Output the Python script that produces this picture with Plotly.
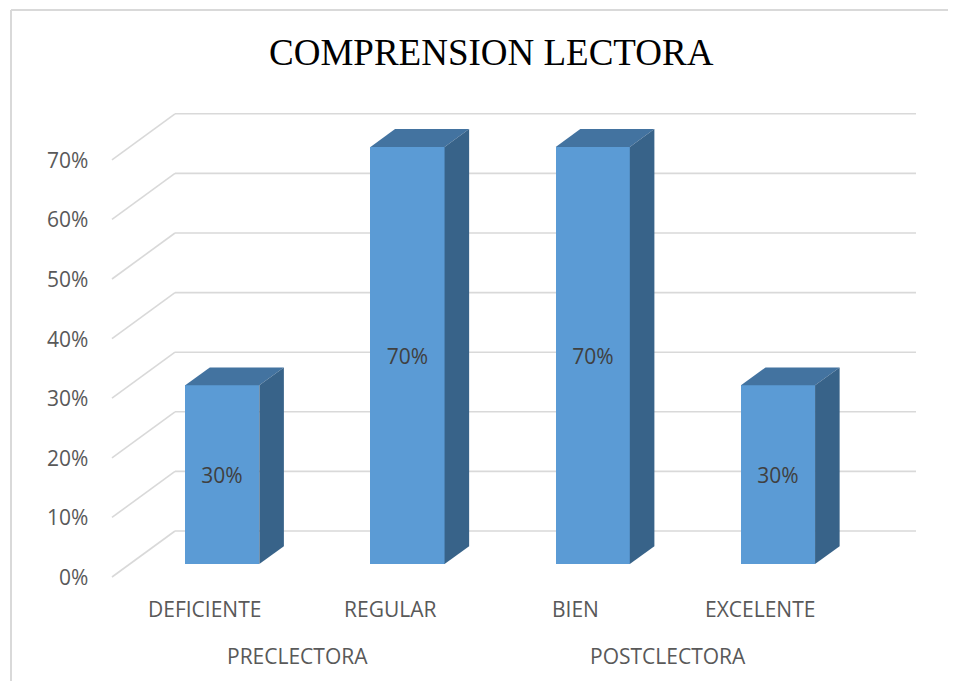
import plotly.graph_objects as go

# ---- data ----
categories = ["DEFICIENTE", "REGULAR", "BIEN", "EXCELENTE"]
values = [30, 70, 70, 30]
groups = ["PRECLECTORA", "POSTCLECTORA"]
group_span = [(0, 1), (2, 3)]
tick_vals = [0, 10, 20, 30, 40, 50, 60, 70]
tick_text = [f"{v}%" for v in tick_vals]
title = "COMPRENSION LECTORA"

# ---- 3D projection parameters ----
W, H = 956, 681
OFF = 8                # page body margin compensation
PX_X = 185.25          # pixels per category slot
PX_Y = 5.96            # pixels per percent
X0_PX, Y0_PX = 112 - OFF, 577 - OFF  # front-floor origin in pixels
DEPTH_X = 63 / PX_X    # back wall shift in x units
DEPTH_Y = 46 / PX_Y    # back wall shift in y units
BAR_T0, BAR_T1 = 0.28, 0.67  # bar depth span (fraction of floor depth)
BAR_W = 0.4

x_range = [(0 - X0_PX) / PX_X - 0.5, (W - X0_PX) / PX_X - 0.5]
y_range = [(Y0_PX - H) / PX_Y, Y0_PX / PX_Y]

FRONT = "#5B9BD5"
TOP = "#4373A0"
SIDE = "#386389"
GRID = "#D9D9D9"
TXT = "#595959"

fig = go.Figure()
shapes = []
n = len(categories)
x_left, x_right = -0.5, n - 0.5

for v in tick_vals:
    shapes.append(dict(type="line", xref="x", yref="y", layer="below",
                       x0=x_left, y0=v, x1=x_left + DEPTH_X, y1=v + DEPTH_Y,
                       line=dict(color=GRID, width=1.6)))
    shapes.append(dict(type="line", xref="x", yref="y", layer="below",
                       x0=x_left + DEPTH_X, y0=v + DEPTH_Y, x1=x_right + DEPTH_X, y1=v + DEPTH_Y,
                       line=dict(color=GRID, width=1.6)))

# chart border
bx, by = (11 - OFF) / W, 1 - (10 - OFF) / H
shapes.append(dict(type="line", xref="paper", yref="paper", x0=bx, y0=0, x1=bx, y1=by,
                   line=dict(color=GRID, width=2)))
shapes.append(dict(type="line", xref="paper", yref="paper", x0=bx, y0=by, x1=1, y1=by,
                   line=dict(color=GRID, width=2)))

fdx, fdy = BAR_T0 * DEPTH_X, BAR_T0 * DEPTH_Y
bdx, bdy = (BAR_T1 - BAR_T0) * DEPTH_X, (BAR_T1 - BAR_T0) * DEPTH_Y
xs = [i + fdx for i in range(n)]

fig.add_trace(go.Bar(
    x=xs, y=values, base=[fdy] * n, width=BAR_W,
    marker=dict(color=FRONT, line=dict(width=0)),
    text=[f"{v}%" for v in values], textposition="inside", insidetextanchor="middle",
    textfont=dict(family="Open Sans", size=21, color="#404040"),
    textangle=0, hoverinfo="skip", showlegend=False,
))

for i, v in enumerate(values):
    xl, xr = xs[i] - BAR_W / 2, xs[i] + BAR_W / 2
    yb, yt = fdy, fdy + v
    fig.add_trace(go.Scatter(
        x=[xl, xr, xr + bdx, xl + bdx, xl],
        y=[yt, yt, yt + bdy, yt + bdy, yt],
        fill="toself", fillcolor=TOP, mode="lines", line=dict(width=0, color=TOP),
        hoverinfo="skip", showlegend=False))
    fig.add_trace(go.Scatter(
        x=[xr, xr + bdx, xr + bdx, xr, xr],
        y=[yb, yb + bdy, yt + bdy, yt, yb],
        fill="toself", fillcolor=SIDE, mode="lines", line=dict(width=0, color=SIDE),
        hoverinfo="skip", showlegend=False))

annotations = []
for v, t in zip(tick_vals, tick_text):
    annotations.append(dict(x=(90 - OFF - X0_PX) / PX_X - 0.5, y=v, xref="x", yref="y", text=t,
                            showarrow=False, xanchor="right", yanchor="middle",
                            font=dict(family="Open Sans", size=21, color=TXT)))
for i, c in enumerate(categories):
    annotations.append(dict(x=i, y=-5.4, xref="x", yref="y", text=c, showarrow=False,
                            xanchor="center", yanchor="middle",
                            font=dict(family="Open Sans", size=21, color=TXT)))
for g, (a, b) in zip(groups, group_span):
    annotations.append(dict(x=(a + b) / 2, y=-13.3, xref="x", yref="y", text=g, showarrow=False,
                            xanchor="center", yanchor="middle",
                            font=dict(family="Open Sans", size=21, color=TXT)))
annotations.append(dict(x=(491 - OFF) / W, y=1 - (52 - OFF) / H, xref="paper", yref="paper", text=title,
                        showarrow=False, xanchor="center", yanchor="middle",
                        font=dict(family="Liberation Serif", size=37, color="#000000")))

fig.update_layout(
    width=W, height=H, margin=dict(l=0, r=0, t=0, b=0),
    paper_bgcolor="white", plot_bgcolor="white",
    xaxis=dict(range=x_range, visible=False, fixedrange=True),
    yaxis=dict(range=y_range, visible=False, fixedrange=True),
    shapes=shapes, annotations=annotations, showlegend=False, bargap=0,
)

fig.write_html("out.html")
